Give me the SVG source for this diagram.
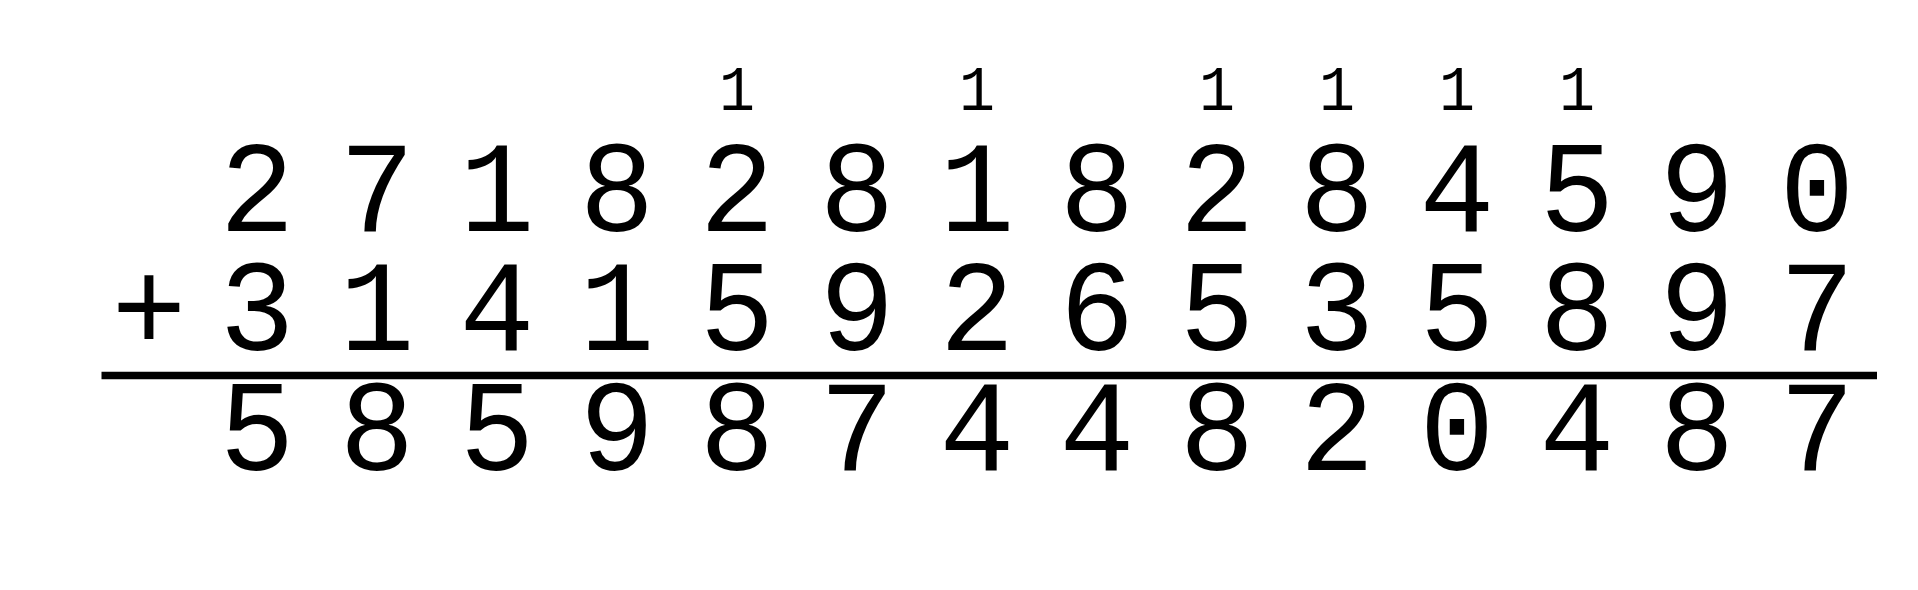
<svg xmlns="http://www.w3.org/2000/svg" width="1918" height="590" viewBox="0 0 1918 590">
<style>
.d{font-family:"Liberation Mono","DejaVu Sans Mono",monospace;font-size:125px;fill:#000;text-anchor:middle}
.c{font-family:"Liberation Mono","DejaVu Sans Mono",monospace;font-size:60px;fill:#000;text-anchor:middle}
</style>
<rect width="1918" height="590" fill="#fff"/>
<g transform="scale(1,1.045)">
<g id="carries">
<text class="c" x="737 977 1217 1337 1457 1577" y="105.3">111111</text>
</g>
<g id="addend1">
<text class="d" x="257 377 497 617 737 857 977 1097 1217 1337 1457 1577 1697 1817" y="220.6">27182818284590</text>
</g>
<g id="addend2">
<text class="d" x="149" y="335.4">+</text>
<text class="d" x="257 377 497 617 737 857 977 1097 1217 1337 1457 1577 1697 1817" y="335.4">31415926535897</text>
</g>
<g id="sum">
<text class="d" x="257 377 497 617 737 857 977 1097 1217 1337 1457 1577 1697 1817" y="450.2">58598744820487</text>
</g>
</g>
<g id="rule">
<line x1="101.5" y1="375.5" x2="1877" y2="375.5" stroke="#000" stroke-width="7.5"/>
</g>
</svg>
